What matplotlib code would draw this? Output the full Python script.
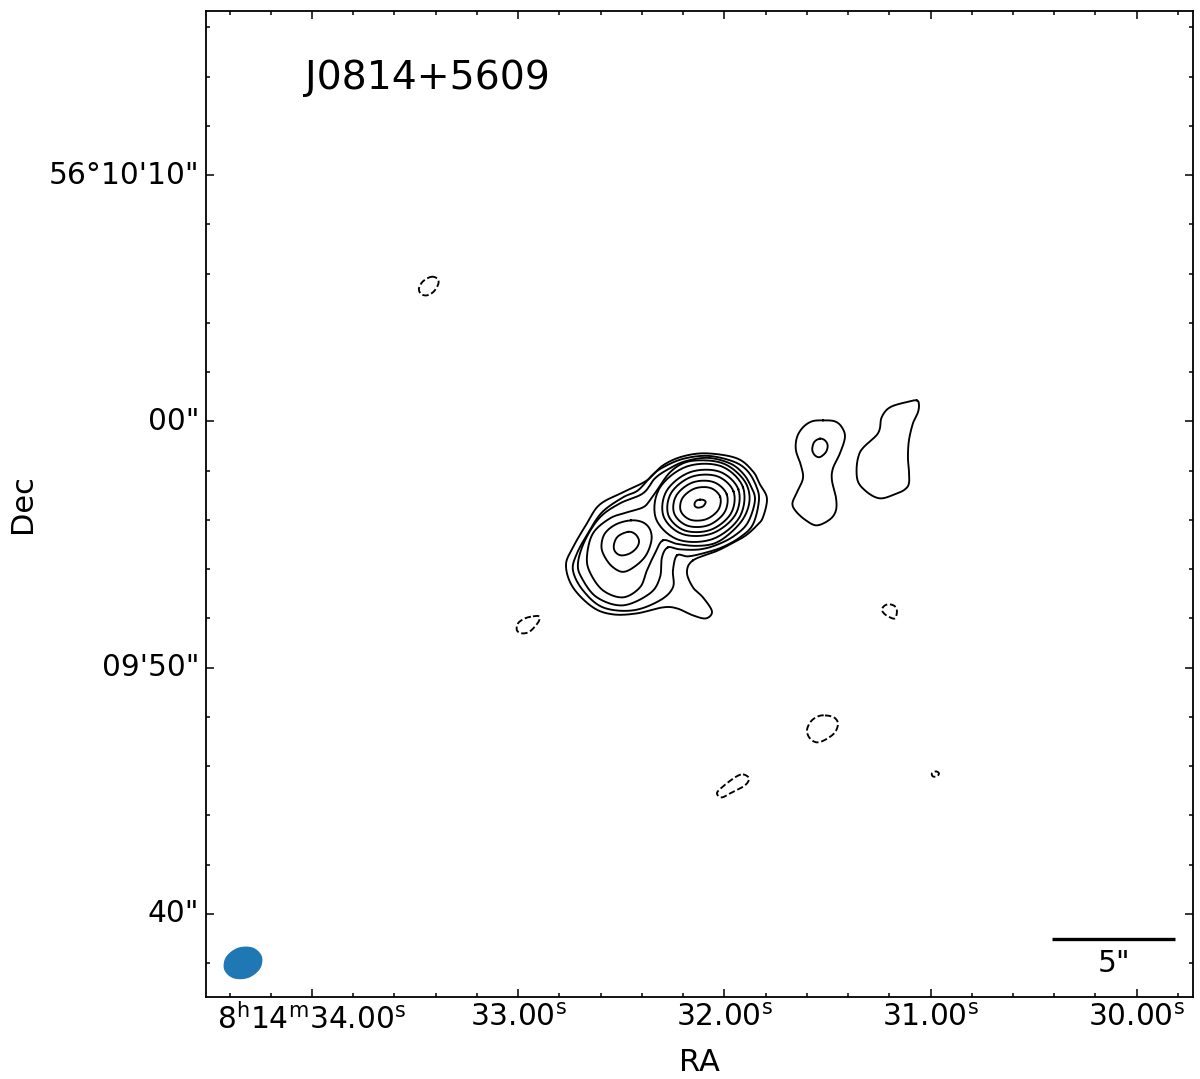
import matplotlib
matplotlib.use('Agg')
import matplotlib.pyplot as plt
from matplotlib.ticker import MultipleLocator
from matplotlib.transforms import ScaledTranslation
import numpy as np

# contour outlines, as (column, row) of the map grid
# column 312 = 34.00s and 206.2 per second, row 421 = 00" and 24.63 per arcsec
lev1 = [(693,560),(716,551),(732,543),(746,535),(757,525),(763,517),(767,498),(760,484),(753,471),(737,458),(707,453),
        (683,456),(663,465),(647,480),(625,491),(600,504),(587,523),(573,547),(566,565),(573,587),(593,607),
        (613,614),(637,613),(663,607),(677,608),(693,615),(706,618),(712,611),(703,597),(693,587),(687,572)]
lev2 = [(677,555),(673,570),(673,587),(660,600),(633,610),(603,607),(583,590),(573,570),(577,553),(588,533),
        (602,512),(623,497),(638,490),(652,475),(663,467),(683,458.5),(708,455.5),(733,461),(747,470),(756,485),
        (759,500),(753,524),(740,537),(722,547),(703,553),(688,556)]
lev3 = [(668,547),(662,557),(660,577),(650,593),(623,605),(597,597),(582,578),(578,563),(585,540),(600,517),
        (620,503),(643,493),(655,478),(668,469),(685,461),(708,457.5),(730,463),(743,473),(751,486),(755,500),
        (748,522),(735,535),(718,544),(700,549),(680,549)]
lev4 = [(663,540),(677,543.5),(696,545.5),(714.5,543),(730,533),(743.5,518),(749.5,501),(747,485),(737,472),(723,463),
        (705,460),(685.5,462),(670,472),(657,490),(650,500),(643,507),(627,512),(610,518),(593,533),(587,556),
        (590,572),(603,590),(623,597),(640,587),(647,570),(655,553)]
core5 = [(743,486.8),(721,465.8),(686.4,466.3),(659.5,488),(656,518.2),(678,539.2),(712.6,538.7),(739.5,517)]
core6 = [(738.4,489),(719.6,471.3),(689.9,471.9),(666.7,490.4),(663.6,516),(682.4,533.7),(712.1,533.1),(735.3,514.6)]
core7 = [(733.6,491.2),(717.3,475.9),(691.4,476.5),(671.2,492.6),(668.4,514.8),(684.7,530.1),(710.6,529.5),(730.8,513.4)]
core8 = [(726.8,494),(713.6,481.7),(692.7,482.1),(676.4,495.1),(674.2,513),(687.4,525.3),(708.3,524.9),(724.6,511.9)]
core9 = [(720.2,496.4),(710.5,487.6),(694.9,488.1),(682.6,497.6),(680.8,510.6),(690.5,519.4),(706.1,518.9),(718.4,509.4)]
core10 = [(700,499.3),(704,499.8),(705.7,502),(703,506),(698,507.3),(695,505.8),(694.7,503),(696.5,500.3)]
lobe5 = [(631,520),(643,522),(650,529),(651.5,540),(646,555),(635,566),(623,571.5),(612,566),(604,555),(601.5,545),
         (605,533),(616,524)]
lobe6 = [(628,531.5),(635,533.5),(639,540),(637,547),(630,553),(621,555),(615,551),(614,544),(618,536)]
blob_a = [(823,420),(835,421),(842,427),(845,437),(840,453),(833,468),(832,480),(836,497),(836,510),(830,519),
          (817,525),(806,520),(796,511),(792.5,503),(797,492),(803,478),(801,465),(796,450),(797,437),(803,427),(812,421)]
blob_a2 = [(820,438.3),(825,440),(827.7,445),(826,451.7),(820,456.7),(815,455),(812.3,449.3),(814.3,441.7)]
blob_b = [(916.7,400),(919,404),(918,412),(913,423),(909,440),(908,457),(909,470),(909,483),(905,489),(897,493),(880,498),
          (865,490),(857,477),(860,452),(878,433),(881.7,417),(890,407),(906.7,401.7)]
solid_contours = [lev1, lev2, lev3, lev4, core5, core6, core7, core8, core9, core10,
                  lobe5, lobe6, blob_a, blob_a2, blob_b]

neg1 = [(890,604),(895,606),(897,611),(895,618),(889,616.5),(884,613),(882,609),(885,605)]
neg2 = [(825,715),(834,717),(838,723),(835,732),(826,739),(817,742),(810,738),(807,730),(811,721),(818,716)]
neg3 = [(743,774),(749,778),(745,785),(732,792),(722,797),(717,793),(722,787),(735,777)]
neg4 = [(936,771),(939,773),(937,776),(933,776),(932,773)]
neg5 = [(431,276.5),(437,278),(438.5,283),(434,291),(427,295),(421,293.5),(419,288),(423,281)]
neg6 = [(533,616),(539,616),(538.5,621.5),(530,631),(522,633),(517,630),(518,623),(525,618)]
dashed_contours = [neg1, neg2, neg3, neg4, neg5, neg6]

beam = [(261.8,955.7),(252.5,947.1),(237.6,947.5),(225.9,956.7),(224.2,969.3),(233.5,977.9),(248.4,977.5),(260.1,968.3)]

ra_ticks = [34, 33, 32, 31, 30]
ra_labels = [r'8$^{\mathrm{h}}$14$^{\mathrm{m}}$34.00$^{\mathrm{s}}$', r'33.00$^{\mathrm{s}}$',
             r'32.00$^{\mathrm{s}}$', r'31.00$^{\mathrm{s}}$', r'30.00$^{\mathrm{s}}$']
dec_ticks = [40, 50, 60, 70]  # arcsec after 56d09m
dec_labels = ['40"', '09\'50"', '00"', '56°10\'10"']


def to_sky(points):
    pts = np.array(points, dtype=float)
    ra = 34 - (pts[:, 0] - 312) / 206.2
    dec = 60 - (pts[:, 1] - 421) / 24.63
    return ra, dec


def smooth(points, n=16):
    # closed catmull-rom through the outline
    pts = np.array(points, dtype=float)
    out = []
    for i in range(len(pts)):
        p0, p1, p2, p3 = pts[i - 1], pts[i], pts[(i + 1) % len(pts)], pts[(i + 2) % len(pts)]
        for t in np.linspace(0, 1, n, endpoint=False):
            out.append(0.5 * (2 * p1 + (p2 - p0) * t + (2 * p0 - 5 * p1 + 4 * p2 - p3) * t ** 2
                              + (3 * p1 - p0 - 3 * p2 + p3) * t ** 3))
    out.append(out[0])
    return out


fig = plt.figure(figsize=(12, 10.79), dpi=100)
ax = fig.add_axes([206 / 1200, 82 / 1079, 987 / 1200, 986 / 1079])

for c in solid_contours:
    ra, dec = to_sky(smooth(c))
    ax.plot(ra, dec, color='black', linewidth=1.35)
for c in dashed_contours:
    ra, dec = to_sky(smooth(c))
    ax.plot(ra, dec, color='black', linewidth=1.35, linestyle=(0, (3.4, 1.5)))

ra, dec = to_sky(smooth(beam))
ax.fill(ra, dec, color='#1f77b4', linewidth=0)

ax.set_xlim(34.514, 29.727)
ax.set_ylim(36.63, 76.66)

ax.set_xticks(ra_ticks)
ax.set_xticklabels(ra_labels)
ax.set_yticks(dec_ticks)
ax.set_yticklabels(dec_labels)
ax.xaxis.set_minor_locator(MultipleLocator(0.2))
ax.yaxis.set_minor_locator(MultipleLocator(2))
ax.tick_params(which='major', direction='in', top=True, right=True, length=5.5, width=1.1, labelsize=21.3)
ax.tick_params(axis='x', which='major', pad=4)
ax.tick_params(axis='y', which='major', pad=5)
ax.tick_params(which='minor', direction='in', top=True, right=True, length=3, width=1.1)
for s in ax.spines.values():
    s.set_linewidth(1.3)

# dec labels sit a little above their ticks
lift = ScaledTranslation(0, 3 / 100, fig.dpi_scale_trans)
for lab in ax.get_yticklabels():
    lab.set_transform(lab.get_transform() + lift)

ax.set_xlabel('RA', fontsize=22, labelpad=10)
ax.set_ylabel('Dec', fontsize=22, labelpad=8)

ax.text(34.034, 73.93, 'J0814+5609', fontsize=28.4, ha='left', va='center')

# 5 arcsec scale bar
ax.plot([30.41, 29.815], [39.0, 39.0], color='black', linewidth=2.4, solid_capstyle='butt')
ax.text(30.11, 38.0, '5"', fontsize=21.3, ha='center', va='center')

fig.savefig('out.png', dpi=100)
